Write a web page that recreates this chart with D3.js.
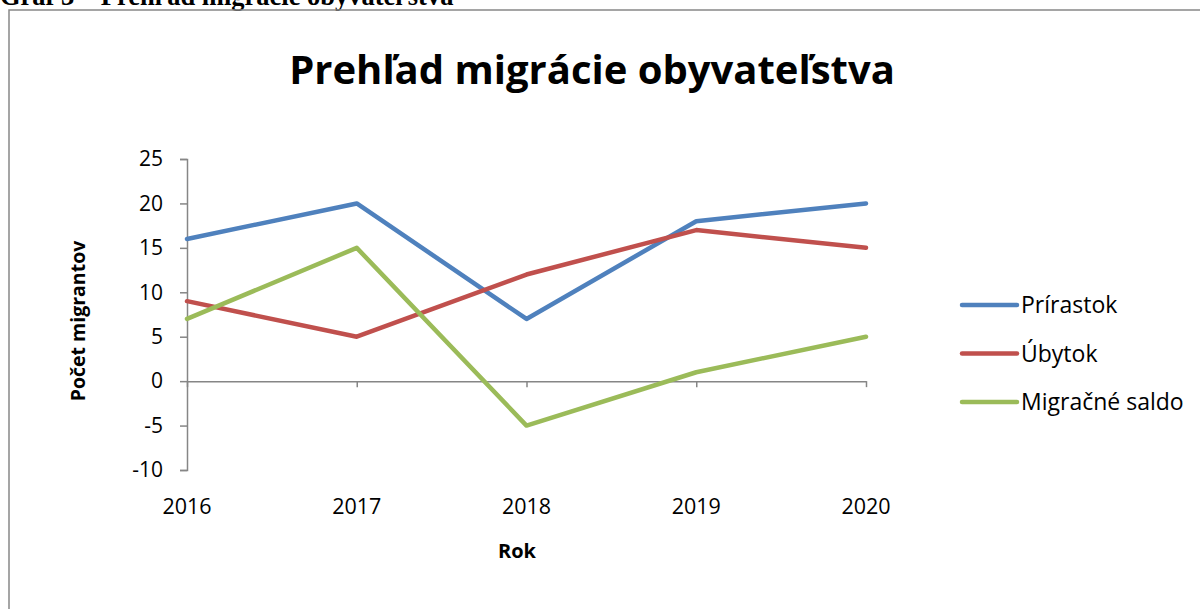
<!DOCTYPE html>
<html>
<head>
<meta charset="utf-8">
<script src="https://cdn.jsdelivr.net/npm/d3@7"></script>
<style>
  body { margin: 0; background: #fff; }
  svg { display: block; }
</style>
</head>
<body>
<svg id="chart" width="1200" height="609"></svg>
<script>
// data
const years = ['2016', '2017', '2018', '2019', '2020'];
const prirastok = [16, 20, 7, 18, 20];
const ubytok = [9, 5, 12, 17, 15];
const saldo = [7, 15, -5, 1, 5];
const seriesNames = ['Prírastok', 'Úbytok', 'Migračné saldo'];
const seriesColors = ['#4F81BD', '#C0504D', '#9BBB59'];
const yTicks = [25, 20, 15, 10, 5, 0, -5, -10];

const font = '"Open Sans", "Noto Sans", sans-serif';
const svg = d3.select('#chart');

// caption above the frame, cut off by the window top
svg.append('text')
    .attr('x', 0)
    .attr('y', 5)
    .style('font-family', '"Liberation Serif", serif')
    .style('font-weight', 'bold')
    .style('font-size', '26.5px')
    .text('Graf 3 – Prehľad migrácie obyvateľstva');

// chart frame
svg.append('path')
    .attr('d', 'M9,609 V10 H1200')
    .attr('fill', 'none')
    .attr('stroke', '#888')
    .attr('stroke-width', 1.5);

svg.append('text')
    .attr('x', 592)
    .attr('y', 84)
    .attr('text-anchor', 'middle')
    .style('font-family', font)
    .style('font-weight', 'bold')
    .style('font-size', '40px')
    .text('Prehľad migrácie obyvateľstva');

const x = d3.scalePoint().domain(years).range([187, 866]);
const y = d3.scaleLinear().domain([-10, 25]).range([470, 159]);

// y axis
const yAxis = svg.append('g')
    .attr('transform', 'translate(187,0)')
    .call(d3.axisLeft(y).tickValues(yTicks).tickSize(7).tickPadding(17)
        .tickFormat(d => String(d)));
yAxis.select('.domain').attr('stroke', '#868686').attr('stroke-width', 1.5);
yAxis.selectAll('.tick line').attr('stroke', '#868686').attr('stroke-width', 1.5);
yAxis.selectAll('.tick text')
    .attr('fill', '#000')
    .style('font-family', font)
    .style('font-size', '21px');

// x axis crossing at zero
const xAxis = svg.append('g')
    .attr('transform', 'translate(0,' + y(0) + ')')
    .call(d3.axisBottom(x).tickSize(6).tickSizeOuter(0).tickFormat(''));
xAxis.select('.domain').attr('stroke', '#868686').attr('stroke-width', 1.5);
xAxis.selectAll('.tick line').attr('stroke', '#868686').attr('stroke-width', 1.5);

// year labels at the bottom
svg.append('g').selectAll('text')
    .data(years)
    .join('text')
    .attr('x', d => x(d))
    .attr('y', 514)
    .attr('text-anchor', 'middle')
    .style('font-family', font)
    .style('font-size', '21.5px')
    .text(d => d);

svg.append('text')
    .attr('transform', 'translate(85,321) rotate(-90)')
    .attr('text-anchor', 'middle')
    .style('font-family', font)
    .style('font-weight', 'bold')
    .style('font-size', '19.5px')
    .text('Počet migrantov');

svg.append('text')
    .attr('x', 517)
    .attr('y', 558)
    .attr('text-anchor', 'middle')
    .style('font-family', font)
    .style('font-weight', 'bold')
    .style('font-size', '20px')
    .text('Rok');

// lines
const allSeries = [prirastok, ubytok, saldo];
const line = d3.line()
    .x((d, i) => x(years[i]))
    .y(d => y(d));

svg.append('g').selectAll('path')
    .data(allSeries)
    .join('path')
    .attr('d', line)
    .attr('fill', 'none')
    .attr('stroke', (d, i) => seriesColors[i])
    .attr('stroke-width', 4.5)
    .attr('stroke-linejoin', 'round')
    .attr('stroke-linecap', 'round');

// legend
const legend = svg.append('g').selectAll('g')
    .data(seriesNames)
    .join('g')
    .attr('transform', (d, i) => 'translate(962,' + (305 + i * 48.5) + ')');

legend.append('line')
    .attr('x1', 0)
    .attr('x2', 55)
    .attr('stroke', (d, i) => seriesColors[i])
    .attr('stroke-width', 4.5)
    .attr('stroke-linecap', 'round');

legend.append('text')
    .attr('x', 59)
    .attr('y', 8)
    .style('font-family', font)
    .style('font-size', '23px')
    .text(d => d);
</script>
</body>
</html>
